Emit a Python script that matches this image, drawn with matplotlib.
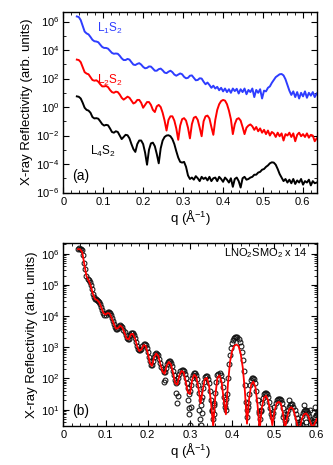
import numpy as np
import matplotlib
matplotlib.use("Agg")
import matplotlib.pyplot as plt
from matplotlib.ticker import LogLocator, MultipleLocator, NullFormatter, LogFormatterSciNotation, FuncFormatter

plt.rcParams['font.family'] = ['Liberation Sans', 'DejaVu Sans']
plt.rcParams['mathtext.fontset'] = 'custom'
plt.rcParams['mathtext.rm'] = 'Liberation Sans'
plt.rcParams['mathtext.it'] = 'Liberation Sans:italic'
plt.rcParams['mathtext.bf'] = 'Liberation Sans:bold'

# ---------------- Panel (a) data: log10 reflectivity on a q grid ----------------
qa_start, qa_stop, qa_n = 0.034, 0.635, 124

logR_L1S2 = [
    6.36, 6.32, 6.10, 5.70, 5.30, 5.17, 5.10, 4.92, 4.72, 4.62,
    4.60, 4.55, 4.38, 4.22, 4.15, 4.15, 4.10, 3.95, 3.80, 3.74,
    3.76, 3.74, 3.60, 3.42, 3.30, 3.30, 3.38, 3.33, 3.15, 2.98,
    2.95, 3.03, 3.08, 2.98, 2.82, 2.72, 2.75, 2.85, 2.84, 2.70,
    2.55, 2.55, 2.66, 2.70, 2.58, 2.42, 2.38, 2.48, 2.55, 2.45,
    2.28, 2.20, 2.28, 2.36, 2.30, 2.12, 2.02, 2.05, 2.20, 2.22,
    2.05, 1.88, 1.90, 2.02, 2.00, 1.78, 1.60, 1.72, 1.55, 1.35,
    1.50, 1.30, 1.42, 1.18, 1.35, 1.10, 1.30, 1.05, 1.25, 1.00,
    1.30, 1.12, 1.28, 0.95, 1.25, 1.05, 1.30, 0.90, 1.20, 1.05,
    1.30, 0.70, 1.20, 1.00, 1.25, 0.60, 1.15, 1.10, 1.35, 1.45,
    1.70, 1.90, 2.10, 2.20, 2.30, 2.32, 2.22, 1.95, 1.55, 1.15,
    0.85, 1.10, 0.70, 1.05, 0.60, 1.00, 0.75, 1.10, 0.65, 1.00,
    0.80, 1.05, 0.70, 0.95,
]

logR_L2S2 = [
    3.33, 3.30, 3.15, 2.80, 2.45, 2.35, 2.30, 2.10, 1.90, 1.85,
    1.88, 1.78, 1.60, 1.45, 1.45, 1.48, 1.40, 1.20, 1.05, 1.00,
    1.08, 1.05, 0.88, 0.65, 0.52, 0.62, 0.73, 0.65, 0.45, 0.25,
    0.32, 0.50, 0.50, 0.30, -0.05, 0.15, 0.35, 0.35, 0.15, -0.20,
    -0.35, 0.05, 0.15, 0.00, -0.40, -0.95, -1.65, -0.90, -0.65, -0.65,
    -0.95, -1.50, -2.30, -1.30, -0.85, -0.78, -0.95, -1.45, -2.20, -1.20,
    -0.75, -0.68, -0.90, -1.45, -2.05, -1.00, -0.65, -0.60, -0.80, -1.40,
    -1.95, -0.90, -0.20, 0.20, 0.42, 0.50, 0.45, 0.20, -0.25, -0.85,
    -1.90, -1.20, -0.85, -0.78, -0.95, -1.40, -1.90, -1.45, -1.30, -1.22,
    -1.35, -1.60, -1.40, -1.70, -1.50, -1.80, -1.60, -1.90, -1.65, -2.00,
    -1.75, -1.85, -2.10, -1.80, -2.05, -1.85, -2.35, -1.90, -2.00, -1.80,
    -2.10, -1.85, -2.40, -1.95, -1.80, -2.05, -1.90, -2.10, -1.85, -2.15,
    -1.95, -2.00, -2.40, -2.20,
]

logR_L4S2 = [
    0.75, 0.72, 0.60, 0.30, -0.05, -0.20, -0.25, -0.40, -0.70, -0.80,
    -0.78, -0.82, -1.00, -1.20, -1.30, -1.25, -1.28, -1.50, -1.75, -1.80,
    -1.70, -1.75, -2.00, -2.25, -2.10, -1.95, -1.98, -2.20, -2.60, -2.95,
    -3.15, -2.60, -2.35, -2.35, -2.60, -3.20, -4.05, -3.00, -2.55, -2.50,
    -2.75, -3.30, -3.95, -2.90, -2.35, -2.10, -2.00, -1.98, -2.05, -2.25,
    -2.60, -3.10, -3.55, -3.85, -3.90, -3.85, -4.20, -4.80, -5.05, -4.95,
    -5.10, -4.85, -5.00, -5.20, -4.90, -5.05, -4.95, -5.15, -4.90, -5.20,
    -5.00, -4.95, -5.20, -4.90, -5.05, -5.25, -4.95, -5.10, -5.30, -5.00,
    -5.60, -5.05, -4.95, -5.20, -5.65, -5.00, -4.90, -5.10, -5.05, -4.95,
    -4.90, -4.75, -4.75, -4.60, -4.55, -4.40, -4.35, -4.20, -4.10, -3.95,
    -3.88, -3.90, -4.05, -4.35, -4.70, -4.95, -5.20, -5.05, -5.30, -5.10,
    -5.35, -5.05, -5.40, -5.15, -5.30, -5.05, -5.45, -5.20, -5.30, -5.10,
    -5.50, -5.20, -5.35, -5.30,
]

# ---------------- Panel (b) data ----------------
qb_start, qb_step = 0.035, 0.005

logR_data_b = [
    6.17, 6.17, 6.12, 5.70, 5.30, 5.15, 5.00, 4.72, 4.55, 4.52,
    4.45, 4.30, 4.10, 4.05, 4.12, 4.10, 3.95, 3.75, 3.60, 3.62,
    3.72, 3.65, 3.48, 3.30, 3.28, 3.45, 3.45, 3.30, 3.05, 2.90,
    2.95, 3.10, 3.08, 2.85, 2.55, 2.42, 2.70, 2.82, 2.75, 2.50,
    2.30, 2.22, 2.45, 2.56, 2.50, 2.25, 1.95, 1.90, 2.15, 2.28,
    2.25, 2.00, 1.70, 1.60, 2.00, 2.18, 2.12, 1.80, 1.30, 1.70,
    2.05, 2.07, 1.85, 1.30, 0.70, 1.55, 2.10, 2.18, 1.95, 1.40,
    1.00, 2.00, 2.75, 3.15, 3.30, 3.33, 3.28, 3.05, 2.60, 1.80,
    0.75, 1.50, 1.95, 2.02, 1.85, 1.30, 0.70, 1.20, 1.50, 1.55,
    1.40, 1.05, 0.75, 1.10, 1.30, 1.35, 1.30, 1.05, 0.65, 0.85,
    1.10, 1.18, 1.10, 0.85, 0.60, 0.55, 0.80, 0.95, 0.98, 0.90,
    0.70, 0.60, 0.75, 0.85,
]

# data points read half-way between the grid points above
logR_data_b_mid = [
    6.18, 6.15, 5.95, 5.50, 5.20, 5.10, 4.88, 4.62, 4.55, 4.50,
    4.38, 4.20, 4.05, 4.10, 4.13, 4.03, 3.85, 3.66, 3.58, 3.68,
    3.70, 3.57, 3.38, 3.27, 3.38, 3.47, 3.40, 3.18, 2.95, 2.90,
    3.04, 3.10, 2.98, 2.70, 2.43, 2.55, 2.78, 2.80, 2.63, 2.38,
    2.20, 2.33, 2.53, 2.55, 2.40, 2.10, 1.85, 2.02, 2.24, 2.28,
    2.14, 1.85, 1.50, 1.80, 2.12, 2.17, 1.98, 1.55, 1.40, 1.90,
    2.08, 1.98, 1.60, 0.95, 1.15, 1.90, 2.16, 2.10, 1.72, 1.10,
    1.50, 2.45, 2.98, 3.25, 3.33, 3.32, 3.18, 2.85, 2.25, 1.25,
    1.10, 1.78, 2.00, 1.97, 1.60, 0.95, 0.95, 1.38, 1.55, 1.50,
    1.25, 0.85, 0.90, 1.22, 1.35, 1.35, 1.20, 0.85, 0.70, 1.00,
    1.15, 1.17, 1.00, 0.72, 0.55, 0.65, 0.90, 0.98, 0.95, 0.80,
    0.62, 0.65, 0.82,
]

logR_fit_b = [
    6.15, 6.15, 6.05, 5.65, 5.28, 5.15, 4.98, 4.72, 4.55, 4.52,
    4.45, 4.28, 4.10, 4.05, 4.10, 4.08, 3.93, 3.74, 3.60, 3.62,
    3.70, 3.63, 3.46, 3.28, 3.26, 3.42, 3.43, 3.28, 3.02, 2.88,
    2.93, 3.07, 3.05, 2.82, 2.50, 2.40, 2.68, 2.80, 2.72, 2.45,
    2.22, 2.15, 2.42, 2.53, 2.45, 2.18, 1.85, 1.80, 2.10, 2.24,
    2.20, 1.90, 1.55, 1.50, 1.95, 2.12, 2.05, 1.70, 1.20, 1.60,
    1.98, 2.02, 1.78, 1.20, 0.45, 1.45, 2.02, 2.10, 1.88, 1.30,
    0.85, 1.85, 2.55, 2.90, 3.05, 3.09, 3.04, 2.80, 2.35, 1.60,
    0.55, 1.35, 1.80, 1.90, 1.72, 1.15, 0.35, 1.05, 1.38, 1.45,
    1.30, 0.95, 0.50, 0.95, 1.20, 1.25, 1.20, 0.90, 0.40, 0.75,
    1.02, 1.08, 1.00, 0.75, 0.45, 0.40, 0.70, 0.85, 0.88, 0.80,
    0.60, 0.42, 0.55, 0.70,
]

# scattered data points at the minima (panel b)
q_extra_b = [0.238, 0.242, 0.266, 0.270, 0.272, 0.295, 0.297, 0.298, 0.300, 0.302,
             0.322, 0.324, 0.326, 0.327, 0.328, 0.353, 0.356, 0.358, 0.383, 0.385,
             0.434, 0.437, 0.463, 0.467, 0.520, 0.535, 0.556, 0.565, 0.570, 0.575,
             0.585, 0.590, 0.595]
logR_extra_b = [1.90, 1.95, 1.55, 1.20, 1.45, 1.30, 1.05, 0.85, 0.50, 1.10,
                1.00, 0.70, 1.15, 0.50, 0.90, 1.00, 0.85, 1.20, 1.20, 1.35,
                1.00, 1.20, 0.90, 1.00, 0.75, 1.30, 0.55, 0.50, 1.15, 0.60,
                1.00, 0.50, 1.10]

qa = np.linspace(qa_start, qa_stop, qa_n)
qb = qb_start + qb_step * np.arange(len(logR_data_b))
qb_mid = qb_start + qb_step / 2 + qb_step * np.arange(len(logR_data_b_mid))

fig = plt.figure(figsize=(3.33, 4.65), dpi=100)
axA = fig.add_axes([0.190, 0.586, 0.761, 0.389])
axB = fig.add_axes([0.190, 0.084, 0.761, 0.393])

blue = '#2e3dff'
red = '#ff0000'

axA.plot(qa, 10.0 ** np.array(logR_L1S2), color=blue, lw=1.4)
axA.plot(qa, 10.0 ** np.array(logR_L2S2), color=red, lw=1.4)
axA.plot(qa, 10.0 ** np.array(logR_L4S2), color='black', lw=1.4)
axA.set_yscale('log')
axA.set_xlim(0, 0.635)
axA.set_ylim(1e-6, 5e6)

mk = dict(ls='none', marker='o', mfc='none', mec='#111111', ms=3.5, mew=0.75, zorder=2)
axB.plot(qb, 10.0 ** np.array(logR_data_b), **mk)
axB.plot(qb_mid, 10.0 ** np.array(logR_data_b_mid), **mk)
axB.plot(q_extra_b, 10.0 ** np.array(logR_extra_b), **mk)
axB.plot(qb, 10.0 ** np.array(logR_fit_b), color=red, lw=1.3, zorder=3)
axB.set_yscale('log')
axB.set_xlim(0, 0.6)
axB.set_ylim(3, 2.2e6)

fs_tick = 8
for ax in (axA, axB):
    ax.xaxis.set_major_locator(MultipleLocator(0.1))
    ax.xaxis.set_minor_locator(MultipleLocator(0.02))
    ax.tick_params(which='both', direction='in', top=True, right=True, labelsize=fs_tick, pad=3)
    ax.tick_params(which='major', length=4, width=0.8)
    ax.tick_params(which='minor', length=2, width=0.6)
    for s in ax.spines.values():
        s.set_linewidth(1.0)
    ax.set_xlabel('q (Å$^{-1}$)', fontsize=9.5, labelpad=1)
    ax.set_ylabel('X-ray Reflectivity (arb. units)', fontsize=9.5, labelpad=2)
    ax.xaxis.set_major_formatter(FuncFormatter(
        lambda v, p: '0' if abs(v) < 1e-9 else f'{v:.1f}'))

axA.yaxis.set_major_locator(LogLocator(base=100.0, numticks=20))
axA.yaxis.set_minor_locator(LogLocator(base=10.0, subs=(1.0,), numticks=30))
axA.yaxis.set_minor_formatter(NullFormatter())
axA.yaxis.set_major_formatter(LogFormatterSciNotation(base=10.0))

axB.yaxis.set_major_locator(LogLocator(base=10.0, numticks=20))
axB.yaxis.set_minor_locator(LogLocator(base=10.0, subs=np.arange(2, 10), numticks=30))
axB.yaxis.set_minor_formatter(NullFormatter())

axA.text(0.084, 10 ** 5.5, 'L$_1$S$_2$', color=blue, fontsize=8.5, va='center', ha='left')
axA.text(0.084, 10 ** 1.9, 'L$_2$S$_2$', color=red, fontsize=8.5, va='center', ha='left')
axA.text(0.067, 10 ** -3.15, 'L$_4$S$_2$', color='black', fontsize=8.5, va='center', ha='left')
axA.text(0.035, 0.09, '(a)', transform=axA.transAxes, fontsize=10, va='center', ha='left')

axB.text(0.962, 0.945, 'LNO$_2$SMO$_2$ x 14', transform=axB.transAxes, fontsize=8,
         va='center', ha='right')
axB.text(0.035, 0.08, '(b)', transform=axB.transAxes, fontsize=10, va='center', ha='left')

fig.savefig('out.png', dpi=100)
